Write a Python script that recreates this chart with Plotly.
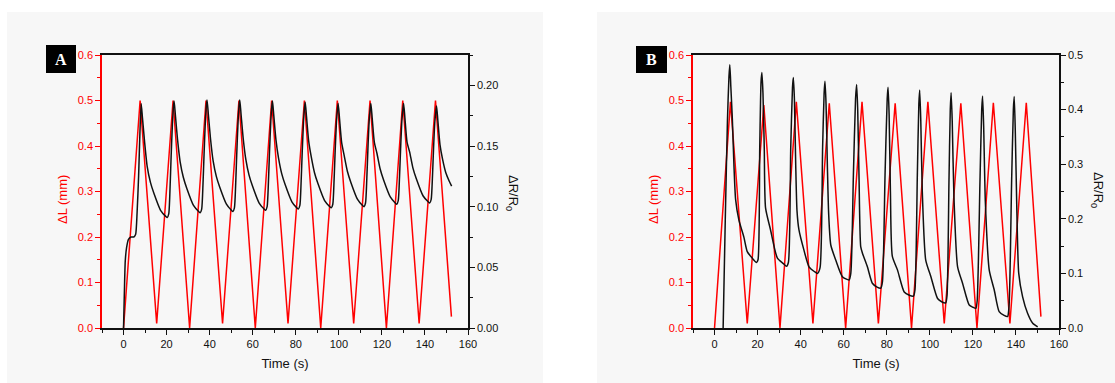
import plotly.graph_objects as go

# ---------------- Panel A data ----------------
a_red_t = [0, 7.7, 15.4, 23.0, 30.7, 38.3, 46.0, 53.6, 61.2, 68.8, 76.4, 84.0, 91.6,
           99.3, 106.9, 114.5, 122.1, 129.7, 137.3, 144.9, 152.3]
a_red_v = [0, 0.5, 0.01, 0.5, 0, 0.5, 0.01, 0.5, 0, 0.5, 0.01, 0.5, 0,
           0.5, 0.01, 0.5, 0, 0.5, 0.01, 0.5, 0.025]

a_blk_t = [0, 0.4, 0.8, 1.4, 2.3, 3.5, 4.8, 5.6, 6.3, 7.0, 7.6, 8.2,
           8.8, 9.8, 11.0, 12.5, 14.1, 17.2, 19.6, 20.3,
           21.0, 21.6, 22.1, 22.7, 23.2, 23.5,
           24.1, 25.1, 26.3, 27.8, 29.4, 32.5, 34.9, 35.6,
           36.3, 36.9, 37.4, 38.0, 38.5, 38.8,
           39.4, 40.4, 41.6, 43.1, 44.7, 47.8, 50.1, 50.8,
           51.5, 52.1, 52.6, 53.2, 53.7, 54.0,
           54.6, 55.6, 56.8, 58.3, 59.9, 63.0, 65.3, 66.0,
           66.7, 67.3, 67.8, 68.4, 68.9, 69.2,
           69.8, 70.8, 72.0, 73.5, 75.1, 78.2, 80.5, 81.2,
           81.9, 82.5, 83.0, 83.6, 84.1, 84.4,
           85.0, 86.0, 87.2, 88.7, 90.3, 93.4, 95.8, 96.5,
           97.2, 97.8, 98.3, 98.9, 99.4, 99.7,
           100.3, 101.3, 102.5, 104.0, 105.6, 108.7, 111.0, 111.7,
           112.4, 113.0, 113.5, 114.1, 114.6, 114.9,
           115.5, 116.5, 117.7, 119.2, 120.8, 123.9, 126.2, 126.9,
           127.6, 128.2, 128.7, 129.3, 129.8, 130.1,
           130.7, 131.7, 132.9, 134.4, 136.0, 139.1, 141.5, 142.2,
           142.9, 143.5, 144.0, 144.6, 145.1, 145.4,
           146.0, 147.0, 148.2, 149.7, 151.3, 152.4]
a_blk_v = [0, 0.03, 0.055, 0.066, 0.073, 0.075, 0.075, 0.077, 0.095, 0.125, 0.16, 0.185,
           0.173, 0.153, 0.133, 0.120, 0.111, 0.097, 0.092, 0.091,
           0.094, 0.115, 0.141, 0.168, 0.183, 0.187,
           0.175, 0.155, 0.137, 0.124, 0.115, 0.101, 0.096, 0.095,
           0.098, 0.118, 0.143, 0.170, 0.184, 0.188,
           0.176, 0.156, 0.138, 0.125, 0.116, 0.102, 0.097, 0.096,
           0.099, 0.119, 0.144, 0.170, 0.184, 0.188,
           0.176, 0.156, 0.139, 0.126, 0.117, 0.103, 0.098, 0.097,
           0.100, 0.120, 0.145, 0.170, 0.183, 0.187,
           0.175, 0.155, 0.140, 0.127, 0.118, 0.104, 0.099, 0.098,
           0.101, 0.121, 0.145, 0.170, 0.182, 0.186,
           0.174, 0.154, 0.141, 0.128, 0.119, 0.105, 0.100, 0.099,
           0.102, 0.122, 0.146, 0.170, 0.181, 0.185,
           0.173, 0.153, 0.142, 0.129, 0.120, 0.106, 0.101, 0.100,
           0.103, 0.123, 0.147, 0.171, 0.181, 0.185,
           0.173, 0.153, 0.144, 0.131, 0.122, 0.108, 0.103, 0.102,
           0.105, 0.125, 0.148, 0.171, 0.181, 0.185,
           0.173, 0.153, 0.145, 0.132, 0.123, 0.109, 0.104, 0.103,
           0.106, 0.125, 0.148, 0.170, 0.179, 0.183,
           0.171, 0.151, 0.139, 0.128, 0.121, 0.117]

# ---------------- Panel B data ----------------
b_red_t = [0, 7.4, 15.2, 22.9, 30.4, 38.0, 45.7, 53.3, 60.9, 68.5, 76.1, 83.9, 91.5,
           99.1, 106.7, 114.4, 121.9, 129.5, 137.2, 144.8, 151.6]
b_red_v = [0, 0.497, 0.01, 0.49, 0, 0.497, 0.01, 0.494, 0, 0.497, 0.01, 0.494, 0,
           0.497, 0.01, 0.494, 0, 0.495, 0.01, 0.495, 0.025]

b_blk_t = [4.0, 5.0, 6.0, 6.7, 7.1,
           7.6, 8.3, 9.0, 9.8, 11.3, 13.6, 15.2, 17.5, 19.5,
           20.2, 21.0, 21.6, 22.0,
           22.5, 23.1, 23.7, 26.0, 29.2, 32.0, 33.4,
           34.3, 35.4, 36.2, 36.6,
           37.1, 37.7, 38.3, 39.2, 41.5, 43.9, 46.5, 47.8,
           49.0, 50.2, 50.9, 51.3,
           51.8, 52.4, 53.0, 54.0, 56.3, 59.4, 62.5,
           63.3, 64.5, 65.5, 66.0,
           66.5, 67.1, 67.9, 68.7, 71.0, 73.3, 75.5, 77.2,
           78.0, 79.2, 80.2, 80.6,
           81.1, 81.7, 82.6, 85.0, 88.1, 90.5, 92.4,
           93.1, 94.2, 94.9, 95.3,
           95.8, 96.5, 98.1, 100.5, 103.6, 105.5, 107.4,
           108.0, 108.9, 109.5, 109.9,
           110.4, 111.2, 112.9, 115.2, 118.3, 120.0, 121.4,
           122.0, 123.3, 124.1, 124.5,
           125.0, 125.8, 127.6, 129.9, 132.2, 134.5, 136.1,
           136.8, 138.0, 138.8, 139.2,
           139.7, 140.4, 141.3, 143.1, 145.4, 147.8, 150.1]
b_blk_v = [0.0, 0.2, 0.38, 0.46, 0.482,
           0.44, 0.38, 0.30, 0.235, 0.198, 0.167, 0.140, 0.128, 0.120,
           0.125, 0.33, 0.45, 0.468,
           0.43, 0.33, 0.22, 0.18, 0.128, 0.118, 0.113,
           0.12, 0.33, 0.44, 0.459,
           0.42, 0.30, 0.215, 0.18, 0.143, 0.112, 0.103, 0.100,
           0.11, 0.33, 0.43, 0.452,
           0.41, 0.30, 0.21, 0.152, 0.1245, 0.094, 0.088,
           0.10, 0.28, 0.42, 0.446,
           0.40, 0.28, 0.149, 0.137, 0.112, 0.082, 0.075, 0.073,
           0.085, 0.28, 0.42, 0.441,
           0.39, 0.25, 0.131, 0.106, 0.066, 0.060, 0.0586,
           0.07, 0.28, 0.41, 0.436,
           0.38, 0.25, 0.1245, 0.094, 0.054, 0.048, 0.046,
           0.06, 0.27, 0.40, 0.431,
           0.38, 0.24, 0.112, 0.082, 0.042, 0.038, 0.036,
           0.05, 0.27, 0.40, 0.425,
           0.37, 0.23, 0.106, 0.070, 0.030, 0.023, 0.021,
           0.04, 0.27, 0.40, 0.424,
           0.36, 0.22, 0.10, 0.057, 0.027, 0.0086, 0.002]

x_ticks = [0, 20, 40, 60, 80, 100, 120, 140, 160]
left_ticks = [0.0, 0.1, 0.2, 0.3, 0.4, 0.5, 0.6]
a_right_ticks = [0.00, 0.05, 0.10, 0.15, 0.20]
b_right_ticks = [0.0, 0.1, 0.2, 0.3, 0.4, 0.5]

RED = "#ff0000"
BLK = "#111111"
FONT = "Liberation Sans, Arial, sans-serif"

W, H = 1115, 383
def px(x):
    return x / W
def py(y):
    return 1 - y / H

ydom = [py(328), py(55)]
xa_dom = [px(102), px(468)]
xb_dom = [px(693), px(1059)]

fig = go.Figure()
fig.add_trace(go.Scatter(x=a_red_t, y=a_red_v, mode="lines", line=dict(color=RED, width=1.5),
                         xaxis="x", yaxis="y", showlegend=False))
fig.add_trace(go.Scatter(x=a_blk_t, y=a_blk_v, mode="lines",
                         line=dict(color=BLK, width=1.5, shape="spline", smoothing=0.6),
                         xaxis="x", yaxis="y2", showlegend=False))
fig.add_trace(go.Scatter(x=b_red_t, y=b_red_v, mode="lines", line=dict(color=RED, width=1.5),
                         xaxis="x2", yaxis="y3", showlegend=False))
fig.add_trace(go.Scatter(x=b_blk_t, y=b_blk_v, mode="lines",
                         line=dict(color=BLK, width=1.5, shape="spline", smoothing=0.6),
                         xaxis="x2", yaxis="y4", showlegend=False))

def xaxis(dom, anchor):
    return dict(domain=dom, anchor=anchor, range=[-10, 160], tickvals=x_ticks, automargin=False,
                showline=True, linecolor=BLK, linewidth=1.5, mirror=True,
                ticks="outside", ticklen=5, tickcolor=BLK, tickwidth=1.2,
                minor=dict(ticks="outside", dtick=10, tick0=0, ticklen=3, tickcolor=BLK),
                showgrid=False, zeroline=False,
                tickfont=dict(family=FONT, size=11, color=BLK),
                title=dict(text="Time (s)", font=dict(family=FONT, size=13, color=BLK), standoff=10))

def yleft(anchor):
    return dict(domain=ydom, anchor=anchor, range=[0, 0.6], tickvals=left_ticks, tickformat=".1f",
                automargin=False,
                showline=True, linecolor=RED, linewidth=1.5,
                ticks="outside", ticklen=5, tickcolor=RED, tickwidth=1.2,
                minor=dict(ticks="outside", dtick=0.05, tick0=0, ticklen=3, tickcolor=RED),
                showgrid=False, zeroline=False,
                tickfont=dict(family=FONT, size=11, color=RED))

def yright(anchor, over, rng, tv, fmt, mdt):
    return dict(domain=ydom, anchor=anchor, overlaying=over, side="right", range=rng,
                tickvals=tv, tickformat=fmt, automargin=False,
                showline=True, linecolor=BLK, linewidth=1.5,
                ticks="outside", ticklen=5, tickcolor=BLK, tickwidth=1.2,
                minor=dict(ticks="outside", dtick=mdt, tick0=0, ticklen=3, tickcolor=BLK),
                showgrid=False, zeroline=False,
                tickfont=dict(family=FONT, size=11, color=BLK))

fig.update_layout(
    width=W, height=H, autosize=False,
    margin=dict(l=0, r=0, t=0, b=0, pad=0),
    paper_bgcolor="white", plot_bgcolor="rgba(0,0,0,0)",
    xaxis=xaxis(xa_dom, "y"),
    yaxis=yleft("x"),
    yaxis2=yright("x", "y", [0, 0.225], a_right_ticks, ".2f", 0.025),
    xaxis2=xaxis(xb_dom, "y3"),
    yaxis3=yleft("x2"),
    yaxis4=yright("x2", "y3", [0, 0.5], b_right_ticks, ".1f", 0.05),
    shapes=[
        dict(type="rect", xref="paper", yref="paper", x0=px(7), x1=px(543), y0=0, y1=py(12),
             fillcolor="#f7f7f7", line=dict(width=0), layer="below"),
        dict(type="rect", xref="paper", yref="paper", x0=px(597), x1=1, y0=0, y1=py(12),
             fillcolor="#f7f7f7", line=dict(width=0), layer="below"),
        dict(type="rect", xref="paper", yref="paper", x0=px(46), x1=px(76), y0=py(73), y1=py(45),
             fillcolor="black", line=dict(width=0)),
        dict(type="rect", xref="paper", yref="paper", x0=px(636), x1=px(667), y0=py(73), y1=py(46),
             fillcolor="black", line=dict(width=0)),
    ],
    annotations=[
        dict(text="<b>A</b>", xref="paper", yref="paper", x=px(61), y=py(59),
             xanchor="center", yanchor="middle", showarrow=False,
             font=dict(family="Liberation Serif, DejaVu Serif, serif", size=16, color="white")),
        dict(text="<b>B</b>", xref="paper", yref="paper", x=px(651.5), y=py(59.5),
             xanchor="center", yanchor="middle", showarrow=False,
             font=dict(family="Liberation Serif, DejaVu Serif, serif", size=16, color="white")),
        dict(text="ΔL (mm)", xref="paper", yref="paper", x=px(62), y=py(200), showarrow=False,
             xanchor="center", yanchor="middle",
             textangle=-90, font=dict(family=FONT, size=13, color=RED)),
        dict(text="ΔL (mm)", xref="paper", yref="paper", x=px(653), y=py(200), showarrow=False,
             xanchor="center", yanchor="middle",
             textangle=-90, font=dict(family=FONT, size=13, color=RED)),
        dict(text="ΔR/R<sub>0</sub>", xref="paper", yref="paper", x=px(513), y=py(193), showarrow=False,
             xanchor="center", yanchor="middle",
             textangle=90, font=dict(family=FONT, size=13, color=BLK)),
        dict(text="ΔR/R<sub>0</sub>", xref="paper", yref="paper", x=px(1098), y=py(190), showarrow=False,
             xanchor="center", yanchor="middle",
             textangle=90, font=dict(family=FONT, size=13, color=BLK)),
    ],
)

fig.write_html(
    "out.html",
    config={"displayModeBar": False, "responsive": False},
    post_script="document.body.style.margin='0';document.body.style.padding='0';"
                "document.documentElement.style.overflow='hidden';",
)
